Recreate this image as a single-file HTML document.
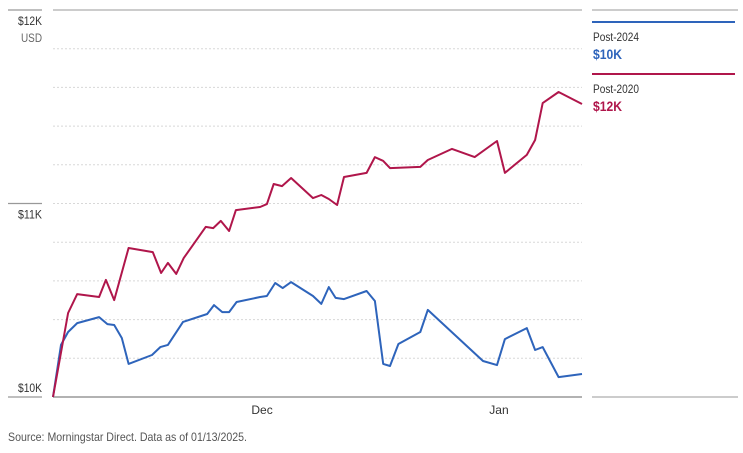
<!DOCTYPE html>
<html><head><meta charset="utf-8">
<style>
html,body{margin:0;padding:0;background:#fff;}
body{width:743px;height:448px;overflow:hidden;font-family:"Liberation Sans Narrow","Liberation Sans",sans-serif;}
svg text{font-family:"Liberation Sans Narrow","Liberation Sans",sans-serif;}
</style></head>
<body>
<svg id="chart" width="743" height="448" viewBox="0 0 743 448" xmlns="http://www.w3.org/2000/svg"></svg>
<script>
const redDays=[0,2,3.2,6.1,7,8.1,10,13.2,14.3,15.2,16.3,17.3,20.2,21.2,22.2,23.3,24.2,27.4,28.3,29.2,30.3,31.5,34.4,35.5,36.5,37.6,38.5,41.5,42.6,43.7,44.6,48.6,49.6,52.8,55.8,58.75,59.8,62.7,63.8,64.8,66.9,70];
const redValues=[10000,10434,10532,10517,10605,10501,10770,10749,10641,10693,10636,10718,10879,10873,10910,10858,10966,10982,10997,11101,11090,11132,11028,11044,11023,10992,11137,11158,11240,11220,11183,11189,11225,11282,11240,11323,11158,11251,11328,11519,11576,11514];
const blueDays=[0,1.06,2,3.2,6.1,7.2,8.1,9.1,10,13.1,14.2,15.2,17.2,20.4,21.3,22.4,23.3,24.3,27.4,28.3,29.4,30.4,31.5,34.4,35.5,36.5,37.4,38.5,41.5,42.6,43.7,44.6,45.7,48.6,49.6,56.9,58.75,59.8,62.7,63.8,64.8,66.9,70];
const blueValues=[10000,10269,10336,10382,10413,10377,10372,10305,10171,10217,10258,10269,10388,10429,10475,10439,10439,10491,10517,10522,10589,10563,10594,10522,10481,10568,10512,10506,10548,10496,10171,10160,10274,10336,10450,10186,10165,10299,10356,10243,10258,10103,10119];
const yTicks=[10000,11000,12000];
const yTickLabels=["$10K","$11K","$12K"];
const xTickDays=[27.4,58.75];
const xTickLabels=["Dec","Jan"];

const NS="http://www.w3.org/2000/svg";
const svg=document.getElementById('chart');
const X0=53,X1=582,Y0=397,Y1=10,D0=0,D1=70,V0=10000,V1=12000;
const xs=d=>X0+(d-D0)/(D1-D0)*(X1-X0);
const ys=v=>Y0-(v-V0)/(V1-V0)*(Y0-Y1);
function mk(tag,attrs,parent){const e=document.createElementNS(NS,tag);for(const k in attrs)e.setAttribute(k,attrs[k]);(parent||svg).appendChild(e);return e;}

const gg=mk('g',{});


for(let v=V0+200;v<V1;v+=200){
  const l=mk('line',{x1:X0,x2:X1,y1:ys(v),y2:ys(v),stroke:'#d8d8d8','stroke-width':1,'stroke-dasharray':'2,2'},gg);
  
  
}
const topLine=mk('line',{x1:X0,x2:X1,y1:ys(V1),y2:ys(V1),stroke:'#999','stroke-width':1});


const baseLine=mk('line',{x1:X0,x2:X1,y1:ys(V0),y2:ys(V0),stroke:'#999','stroke-width':1.5});



yTicks.forEach((v,i)=>{
  const y=ys(v);
  const t=mk('line',{x1:8,x2:42,y1:y,y2:y,stroke:'#999','stroke-width':1.2});
  
  
  const lab=mk('text',{x:42,y:i===0?y-5:y+15,'text-anchor':'end','font-size':12,fill:'#333',textLength:24,lengthAdjust:'spacingAndGlyphs'});
  lab.textContent=yTickLabels[i];
  
  
});
const usd=mk('text',{x:42,y:42,'text-anchor':'end','font-size':12,fill:'#666',textLength:21,lengthAdjust:'spacingAndGlyphs'});
usd.textContent='USD';



xTickDays.forEach((d,i)=>{
  const t=mk('text',{x:xs(d)+2,y:414,'text-anchor':'middle','font-size':12,fill:'#333'});
  t.textContent=xTickLabels[i];
  
  
});

function dataSeries(days,vals,color,name){
  const p=mk('polyline',{points:days.map((d,i)=>xs(d).toFixed(1)+','+ys(vals[i]).toFixed(1)).join(' '),fill:'none',stroke:color,'stroke-width':2,'stroke-linejoin':'round'});
  
  
}
dataSeries(blueDays,blueValues,'#2e64bb','line-post-2024');
dataSeries(redDays,redValues,'#b0164b','line-post-2020');

const lg=mk('g',{});


const lt=mk('line',{x1:592,x2:738,y1:10,y2:10,stroke:'#999','stroke-width':1},lg);


const lb=mk('line',{x1:592,x2:738,y1:397,y2:397,stroke:'#bbb','stroke-width':1.5},lg);


[[22,'Post-2024','$10K','#2e64bb','legend-entry-post-2024'],[74,'Post-2020','$12K','#b0164b','legend-entry-post-2020']].forEach(e=>{
  const g=mk('g',{},lg);
  
  
  mk('line',{x1:592,x2:735,y1:e[0],y2:e[0],stroke:e[3],'stroke-width':2},g);
  const a=mk('text',{x:593,y:e[0]+19,'font-size':12,fill:'#333',textLength:46,lengthAdjust:'spacingAndGlyphs'},g);
  a.textContent=e[1];
  const b=mk('text',{x:593,y:e[0]+37,'font-size':14,'font-weight':'bold',fill:e[3],textLength:29,lengthAdjust:'spacingAndGlyphs'},g);
  b.textContent=e[2];
});

const src=mk('text',{x:8,y:441,'font-size':12,fill:'#555',textLength:239,lengthAdjust:'spacingAndGlyphs'});
src.textContent='Source: Morningstar Direct. Data as of 01/13/2025.';


</script>
</body></html>
